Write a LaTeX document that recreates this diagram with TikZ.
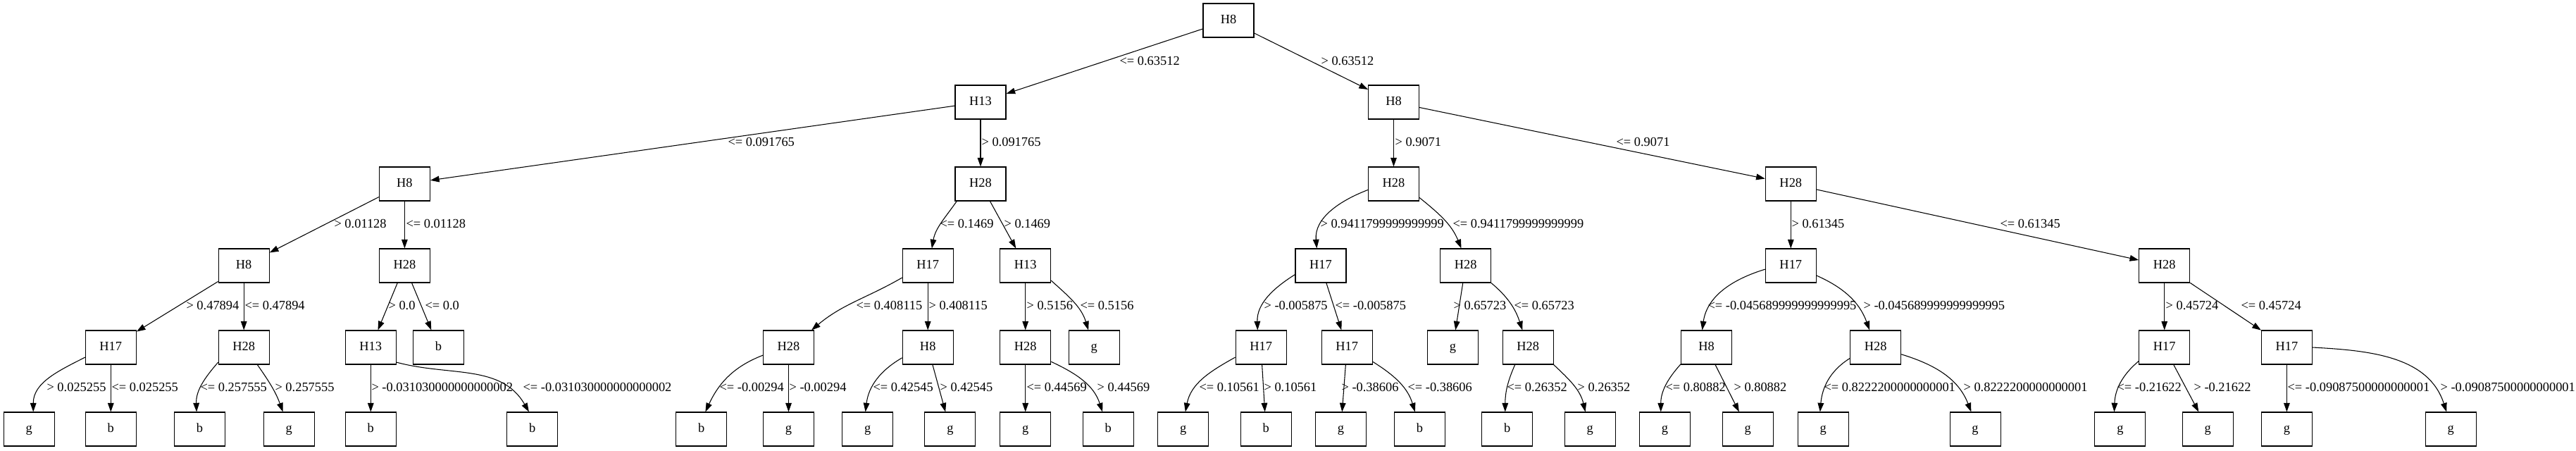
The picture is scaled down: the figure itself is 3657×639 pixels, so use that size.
\documentclass[tikz,border=0pt]{standalone}
\usepackage{fontspec}
\setmainfont{Liberation Serif}
\usetikzlibrary{arrows.meta}

\begin{document}
\begin{tikzpicture}[x=0.75pt,y=0.75pt,font=\fontsize{13.8}{16}\selectfont]
 \tikzstyle{test}=[draw, rectangle, line width=0.8pt, minimum width=54pt, minimum height=36pt, inner sep=0pt, text height=0.72em, text depth=0.06em]
 \tikzstyle{lbl}=[anchor=west, inner sep=0pt]
 \tikzstyle{arr}=[line width=0.8pt, -{Triangle[length=9.5pt,width=6.5pt]}]
 \useasboundingbox (0,0) rectangle (3657,-639);

 % tests
 \node[test] (n0) at (1744,-29) {H8};
 \node[test] (n1) at (1392,-145) {H13};
 \node[test] (n2) at (1978.5,-145) {H8};
 \node[test] (n3) at (574.4,-261) {H8};
 \node[test] (n4) at (1392,-261) {H28};
 \node[test] (n5) at (1978.5,-261) {H28};
 \node[test] (n6) at (2542.3,-261) {H28};
 \node[test] (n7) at (346.2,-377) {H8};
 \node[test] (n8) at (574.4,-377) {H28};
 \node[test] (n9) at (1317.2,-377) {H17};
 \node[test] (n10) at (1455.7,-377) {H13};
 \node[test] (n11) at (1875,-377) {H17};
 \node[test] (n12) at (2080.6,-377) {H28};
 \node[test] (n13) at (2542.3,-377) {H17};
 \node[test] (n14) at (3072.7,-377) {H28};
 \node[test] (n15) at (157.3,-493) {H17};
 \node[test] (n16) at (346.2,-493) {H28};
 \node[test] (n17) at (526.3,-493) {H13};
 \node[test] (n18) at (622.5,-493) {b};
 \node[test] (n19) at (1119.5,-493) {H28};
 \node[test] (n20) at (1317.2,-493) {H8};
 \node[test] (n21) at (1455.7,-493) {H28};
 \node[test] (n22) at (1553.1,-493) {g};
 \node[test] (n23) at (1790.1,-493) {H17};
 \node[test] (n24) at (1912.2,-493) {H17};
 \node[test] (n25) at (2062.4,-493) {g};
 \node[test] (n26) at (2169.2,-493) {H28};
 \node[test] (n27) at (2422.6,-493) {H8};
 \node[test] (n28) at (2662.6,-493) {H28};
 \node[test] (n29) at (3072.7,-493) {H17};
 \node[test] (n30) at (3246.4,-493) {H17};

 % leaves
 \node[test] (l0) at (41.1,-609) {g};
 \node[test] (l1) at (157.3,-609) {b};
 \node[test] (l2) at (283.4,-609) {b};
 \node[test] (l3) at (410.1,-609) {g};
 \node[test] (l4) at (526.3,-609) {b};
 \node[test] (l5) at (755.7,-609) {b};
 \node[test] (l6) at (995.7,-609) {b};
 \node[test] (l7) at (1119.5,-609) {g};
 \node[test] (l8) at (1231.6,-609) {g};
 \node[test] (l9) at (1348.9,-609) {g};
 \node[test] (l10) at (1455.7,-609) {g};
 \node[test] (l11) at (1573.1,-609) {b};
 \node[test] (l12) at (1679.8,-609) {g};
 \node[test] (l13) at (1797.2,-609) {b};
 \node[test] (l14) at (1903.4,-609) {g};
 \node[test] (l15) at (2015.4,-609) {b};
 \node[test] (l16) at (2139.8,-609) {b};
 \node[test] (l17) at (2257.2,-609) {g};
 \node[test] (l18) at (2363.4,-609) {g};
 \node[test] (l19) at (2481.3,-609) {g};
 \node[test] (l20) at (2588.1,-609) {g};
 \node[test] (l21) at (2804,-609) {g};
 \node[test] (l22) at (3009.9,-609) {g};
 \node[test] (l23) at (3134.3,-609) {g};
 \node[test] (l24) at (3246.4,-609) {g};
 \node[test] (l25) at (3479.3,-609) {g};

 \draw[arr] (n0) -- (n1) node[lbl] at (1589,-87) {<= 0.63512};
 \draw[arr] (n0) -- (n2) node[lbl] at (1875,-87) {> 0.63512};
 \draw[arr] (n1) -- (n3) node[lbl] at (1033,-202) {<= 0.091765};
 \draw[arr] (n1) -- (n4) node[lbl] at (1393,-202) {> 0.091765};
 \draw[arr] (n2) -- (n5) node[lbl] at (1980,-202) {> 0.9071};
 \draw[arr] (n2) -- (n6) node[lbl] at (2294,-202) {<= 0.9071};

 \draw[arr] (n3) -- (n7) node[lbl] at (474,-318) {> 0.01128};
 \draw[arr] (n3) -- (n8) node[lbl] at (576,-318) {<= 0.01128};
 \draw[arr] (n4.216) to[out=235,in=80] (n9.77) node[lbl] at (1334,-318) {<= 0.1469};
 \draw[arr] (n4) -- (n10) node[lbl] at (1425,-318) {> 0.1469};
 \draw[arr] (n5.193) to[out=201,in=95] (n11.103) node[lbl] at (1874,-318) {> 0.9411799999999999};
 \draw[arr] (n5.332) to[out=321,in=112] (n12.104) node[lbl] at (2062,-318) {<= 0.9411799999999999};
 \draw[arr] (n6) -- (n13) node[lbl] at (2543,-318) {> 0.61345};
 \draw[arr] (n6) -- (n14) node[lbl] at (2839,-318) {<= 0.61345};

 \draw[arr] (n7) -- (n15) node[lbl] at (264,-434) {> 0.47894};
 \draw[arr] (n7) -- (n16) node[lbl] at (347,-434) {<= 0.47894};
 \draw[arr] (n8) -- (n17) node[lbl] at (551,-434) {> 0.0};
 \draw[arr] (n8) -- (n18) node[lbl] at (603,-434) {<= 0.0};
 \draw[arr] (n9.205) to[out=210,in=40] (n19.37) node[lbl] at (1215,-434) {<= 0.408115};
 \draw[arr] (n9) -- (n20) node[lbl] at (1318,-434) {> 0.408115};
 \draw[arr] (n10) -- (n21) node[lbl] at (1457,-434) {> 0.5156};
 \draw[arr] (n10.330) to[out=318,in=107] (n22.108) node[lbl] at (1533,-434) {<= 0.5156};
 \draw[arr] (n11.199) to[out=212,in=92] (n23.101) node[lbl] at (1794,-434) {> -0.005875};
 \draw[arr] (n11) -- (n24) node[lbl] at (1895,-434) {<= -0.005875};
 \draw[arr] (n12) -- (n25) node[lbl] at (2063,-434) {> 0.65723};
 \draw[arr] (n12.326) to[out=320,in=108] (n26.108) node[lbl] at (2149,-434) {<= 0.65723};
 \draw[arr] (n13.188) to[out=197,in=82] (n27.104) node[lbl] at (2424,-434) {<= -0.045689999999999995};
 \draw[arr] (n13.339) to[out=336,in=110] (n28.109) node[lbl] at (2645,-434) {> -0.045689999999999995};
 \draw[arr] (n14) -- (n29) node[lbl] at (3074,-434) {> 0.45724};
 \draw[arr] (n14) -- (n30) node[lbl] at (3181,-434) {<= 0.45724};

 \draw[arr] (n15.201) to[out=207,in=90] (l0.76) node[lbl] at (66,-550) {> 0.025255};
 \draw[arr] (n15) -- (l1) node[lbl] at (158,-550) {<= 0.025255};
 \draw[arr] (n16.210) to[out=229,in=92] (l2.100) node[lbl] at (284,-550) {<= 0.257555};
 \draw[arr] (n16.308) to[out=305,in=110] (l3.109) node[lbl] at (390,-550) {> 0.257555};
 \draw[arr] (n17) -- (l4) node[lbl] at (527,-550) {> -0.031030000000000002};
 \draw[arr] (n17.330) to[out=345,in=120] (l5.101) node[lbl] at (742,-550) {<= -0.031030000000000002};
 \draw[arr] (n19.197) to[out=201,in=65] (l6.77) node[lbl] at (1021,-550) {<= -0.00294};
 \draw[arr] (n19) -- (l7) node[lbl] at (1120,-550) {> -0.00294};
 \draw[arr] (n20.202) to[out=210,in=83] (l8.97) node[lbl] at (1239,-550) {<= 0.42545};
 \draw[arr] (n20) -- (l9) node[lbl] at (1334,-550) {> 0.42545};
 \draw[arr] (n21) -- (l10) node[lbl] at (1457,-550) {<= 0.44569};
 \draw[arr] (n21.331) to[out=335,in=108] (l11.108) node[lbl] at (1557,-550) {> 0.44569};
 \draw[arr] (n23.201) to[out=209,in=79] (l12.83) node[lbl] at (1702,-550) {<= 0.10561};
 \draw[arr] (n23) -- (l13) node[lbl] at (1794,-550) {> 0.10561};
 \draw[arr] (n24) -- (l14) node[lbl] at (1904,-550) {> -0.38606};
 \draw[arr] (n24.331) to[out=328,in=107] (l15.105) node[lbl] at (1998,-550) {<= -0.38606};
 \draw[arr] (n26.233) to[out=246,in=90] (l16.97) node[lbl] at (2139,-550) {<= 0.26352};
 \draw[arr] (n26.326) to[out=317,in=103] (l17.105) node[lbl] at (2239,-550) {> 0.26352};
 \draw[arr] (n27.213) to[out=228,in=90] (l18.103) node[lbl] at (2364,-550) {<= 0.80882};
 \draw[arr] (n27) -- (l19) node[lbl] at (2461,-550) {> 0.80882};
 \draw[arr] (n28.203) to[out=212,in=85] (l20.100) node[lbl] at (2589,-550) {<= 0.8222200000000001};
 \draw[arr] (n28.345) to[out=343,in=111] (l21.103) node[lbl] at (2787,-550) {> 0.8222200000000001};
 \draw[arr] (n29.208) to[out=220,in=88] (l22.109) node[lbl] at (3005,-550) {<= -0.21622};
 \draw[arr] (n29) -- (l23) node[lbl] at (3114,-550) {> -0.21622};
 \draw[arr] (n30) -- (l24) node[lbl] at (3247,-550) {<= -0.09087500000000001};
 \draw[arr] (n30.0) to[out=357,in=108] (l25.104) node[lbl] at (3464,-550) {> -0.09087500000000001};
\end{tikzpicture}
\end{document}
